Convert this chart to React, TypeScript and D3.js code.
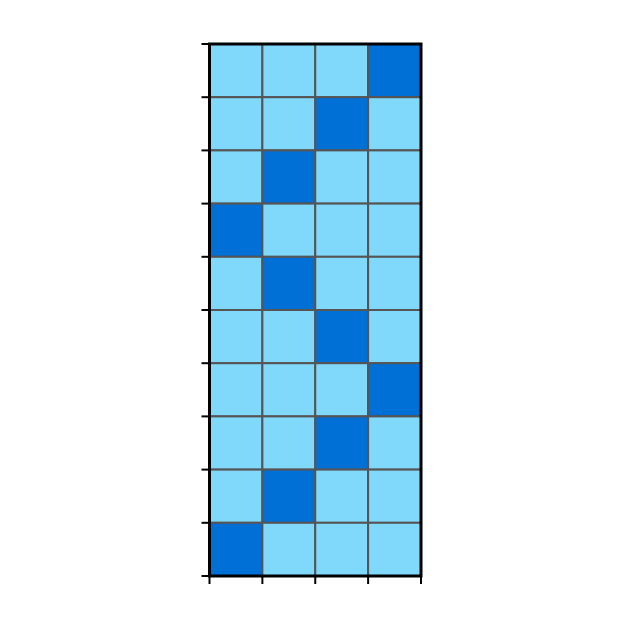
import React from "react";
import * as d3 from "d3";

const columns = [0, 1, 2, 3];
const rows = [0, 1, 2, 3, 4, 5, 6, 7, 8, 9];
// column index of the dark cell for each row (top to bottom)
const darkCol = [3, 2, 1, 0, 1, 2, 3, 2, 1, 0];
const lightColor = "#80D8FA";
const darkColor = "#0070D6";

export default function App() {
  const W = 629, H = 629;
  const left = 209.5, right = 421, top = 44, bottom = 576;
  const x = d3.scaleLinear().domain([0, columns.length]).range([left, right]);
  const y = d3.scaleLinear().domain([0, rows.length]).range([top, bottom]);
  const xTicks = d3.range(columns.length + 1);
  const yTicks = d3.range(rows.length + 1);
  return (
    <svg width={W} height={H} style={{ position: "absolute", left: 0, top: 0 }}>
      <rect width={W} height={H} fill="#fff" />
      {rows.map((r) =>
        columns.map((c) => (
          <rect
            key={`${r}-${c}`}
            x={x(c)}
            y={y(r)}
            width={x(c + 1) - x(c)}
            height={y(r + 1) - y(r)}
            fill={darkCol[r] === c ? darkColor : lightColor}
            stroke="#555"
            strokeWidth={2}
          />
        ))
      )}
      <rect x={left} y={top} width={right - left} height={bottom - top} fill="none" stroke="#000" strokeWidth={3} />
      {yTicks.map((t) => (
        <line key={`y${t}`} x1={left - 8} x2={left} y1={y(t)} y2={y(t)} stroke="#000" strokeWidth={2} />
      ))}
      {xTicks.map((t) => (
        <line key={`x${t}`} x1={x(t)} x2={x(t)} y1={bottom} y2={bottom + 8} stroke="#000" strokeWidth={2} />
      ))}
    </svg>
  );
}
